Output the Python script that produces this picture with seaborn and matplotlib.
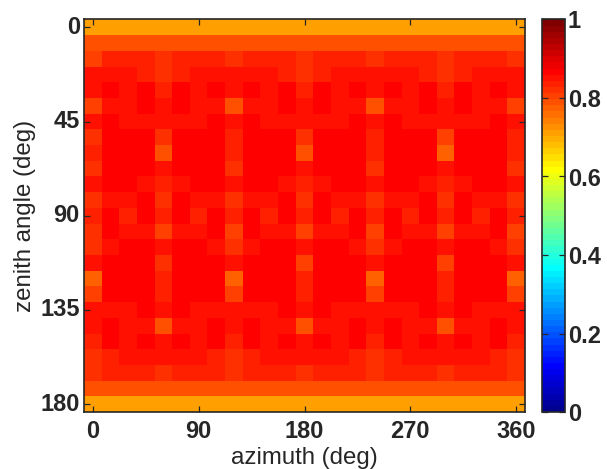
import numpy as np
import matplotlib
matplotlib.use('Agg')
import matplotlib.pyplot as plt
from matplotlib.colors import ListedColormap
import seaborn as sns

# tick labels
azimuth_labels = [0, 90, 180, 270, 360]
zenith_labels = [0, 45, 90, 135, 180]
colorbar_labels = ['0', '0.2', '0.4', '0.6', '0.8', '1']

# values, in hundredths, one list per zenith row
row01 = [71] * 25
row02 = [79] * 25
row03 = [80, 84, 84, 84, 82, 84, 84, 84, 82, 84, 84, 84, 82, 84, 84, 84, 82, 84, 84, 84, 82, 84, 84, 84, 82]
row04 = [85, 85, 85, 84, 82, 84, 85, 85, 85, 85, 85, 84, 82, 84, 85, 85, 85, 85, 85, 84, 82, 84, 85, 85, 85]
row05 = [85, 87, 85, 87, 84, 87, 85, 87, 85, 87, 85, 87, 84, 87, 85, 87, 85, 87, 85, 87, 84, 87, 85, 87, 85]
row06 = [80, 85, 85, 87, 85, 87, 85, 85, 79, 85, 85, 87, 85, 87, 85, 85, 79, 85, 85, 87, 85, 87, 85, 85, 80]
row07 = [85, 87, 85, 85, 85, 85, 85, 87, 85, 87, 85, 85, 85, 85, 85, 87, 85, 87, 85, 85, 85, 85, 85, 87, 85]
row08 = [82, 87, 87, 87, 82, 87, 87, 87, 84, 87, 87, 87, 82, 87, 87, 87, 84, 87, 87, 87, 80, 87, 87, 87, 84]
row09 = [84, 87, 87, 87, 79, 87, 87, 87, 84, 87, 87, 87, 79, 87, 87, 87, 84, 87, 87, 87, 77, 87, 87, 87, 84]
row10 = [82, 87, 87, 87, 85, 87, 87, 87, 82, 87, 87, 87, 85, 87, 87, 87, 82, 87, 87, 87, 85, 87, 87, 87, 82]
row11 = [85, 87, 87, 85, 84, 85, 87, 87, 85, 87, 87, 85, 84, 85, 87, 87, 85, 87, 87, 85, 84, 85, 87, 87, 85]
row12 = [82, 85, 85, 87, 82, 87, 85, 85, 82, 85, 85, 87, 82, 87, 85, 85, 82, 85, 85, 87, 82, 87, 85, 85, 82]
row13 = [84, 87, 84, 87, 84, 87, 84, 87, 84, 87, 84, 87, 84, 87, 84, 87, 84, 87, 84, 87, 84, 87, 84, 87, 84]
row14 = [82, 87, 85, 85, 80, 85, 85, 87, 80, 87, 85, 85, 80, 85, 85, 87, 80, 87, 85, 85, 80, 85, 85, 87, 80]
row15 = [82, 85, 87, 87, 85, 87, 87, 85, 82, 85, 87, 87, 85, 87, 87, 85, 82, 85, 87, 87, 85, 87, 87, 85, 82]
row16 = [85, 87, 87, 87, 82, 87, 87, 87, 85, 87, 87, 87, 80, 87, 87, 87, 85, 87, 87, 87, 80, 87, 87, 87, 85]
row17 = [77, 87, 87, 87, 84, 87, 87, 87, 77, 87, 87, 87, 84, 87, 87, 87, 77, 87, 87, 87, 84, 87, 87, 87, 77]
row18 = [80, 87, 87, 87, 84, 87, 87, 87, 80, 87, 87, 87, 84, 87, 87, 87, 80, 87, 87, 87, 84, 87, 87, 87, 80]
row19 = [85, 85, 85, 87, 85, 87, 85, 85, 85, 85, 85, 87, 85, 87, 85, 85, 85, 85, 85, 87, 85, 87, 85, 85, 85]
row20 = [85, 87, 85, 85, 79, 85, 85, 87, 85, 87, 85, 85, 79, 85, 85, 87, 85, 87, 85, 85, 79, 85, 85, 87, 85]
row21 = [84, 87, 85, 87, 85, 87, 85, 87, 84, 87, 85, 87, 85, 87, 85, 87, 84, 87, 85, 87, 85, 87, 85, 87, 84]
row22 = [82, 84, 85, 85, 85, 85, 85, 84, 82, 84, 85, 85, 85, 85, 85, 84, 82, 84, 85, 85, 85, 85, 85, 84, 82]
row23 = [82, 84, 84, 84, 82, 84, 84, 84, 82, 84, 84, 84, 82, 84, 84, 84, 82, 84, 84, 84, 82, 84, 84, 84, 82]
row24 = [79] * 25
row25 = [71] * 25

rows = [row01, row02, row03, row04, row05, row06, row07, row08, row09, row10,
        row11, row12, row13, row14, row15, row16, row17, row18, row19, row20,
        row21, row22, row23, row24, row25]
data = np.array(rows) / 100

# the old 64 step jet
n = 16
u = np.r_[np.arange(1, n + 1) / n, np.ones(n - 1), np.arange(n, 0, -1) / n]
jet = np.zeros((64, 3))
g = 8 + np.arange(len(u))
for chan, idx in enumerate([g + n, g, g - n]):
    keep = (idx >= 0) & (idx < 64)
    jet[idx[keep], chan] = u[keep]
jet64 = ListedColormap(jet)

plt.rcParams['font.family'] = ['Liberation Sans', 'DejaVu Sans']
dark = '#262626'

W, H = 607, 469
fig = plt.figure(figsize=(W / 100, H / 100), dpi=100)
ax = fig.add_axes([84 / W, 1 - 412 / H, 441 / W, 392.5 / H])
cax = fig.add_axes([542 / W, 1 - 412 / H, 23 / W, 392.5 / H])

sns.heatmap(data, ax=ax, cbar_ax=cax, cmap=jet64, vmin=0, vmax=1)

# ticks sit on the middle of the cells
ax.set_xticks(np.arange(len(azimuth_labels)) * 6 + 0.5)
ax.set_xticklabels(azimuth_labels, rotation=0, fontsize=17, fontweight='bold', color=dark)
ax.set_yticks(np.arange(len(zenith_labels)) * 6 + 0.5)
ax.set_yticklabels(zenith_labels, rotation=0, fontsize=17, fontweight='bold', color=dark)
ax.tick_params(axis='both', direction='in', length=4, width=0.9, color=dark,
               top=True, right=True, bottom=True, left=True)
ax.tick_params(axis='x', pad=6)
ax.tick_params(axis='y', pad=3)
ax.set_xlabel('azimuth (deg)', fontsize=17.3, color=dark, labelpad=2.5)
ax.set_ylabel('zenith angle (deg)', fontsize=17.3, color=dark, labelpad=3)
for side in ax.spines.values():
    side.set_visible(True)
    side.set_linewidth(1.2)
    side.set_color(dark)

cbar = ax.collections[0].colorbar
cbar.set_ticks(np.arange(6) / 5)
cbar.set_ticklabels(colorbar_labels, fontsize=17, fontweight='bold', color=dark)
cax.tick_params(axis='y', direction='in', length=4, width=0.9, color=dark,
                left=True, right=True, pad=2)
cbar.outline.set_visible(True)
cbar.outline.set_linewidth(1.2)
cbar.outline.set_edgecolor(dark)

fig.savefig('out.png', dpi=100)
